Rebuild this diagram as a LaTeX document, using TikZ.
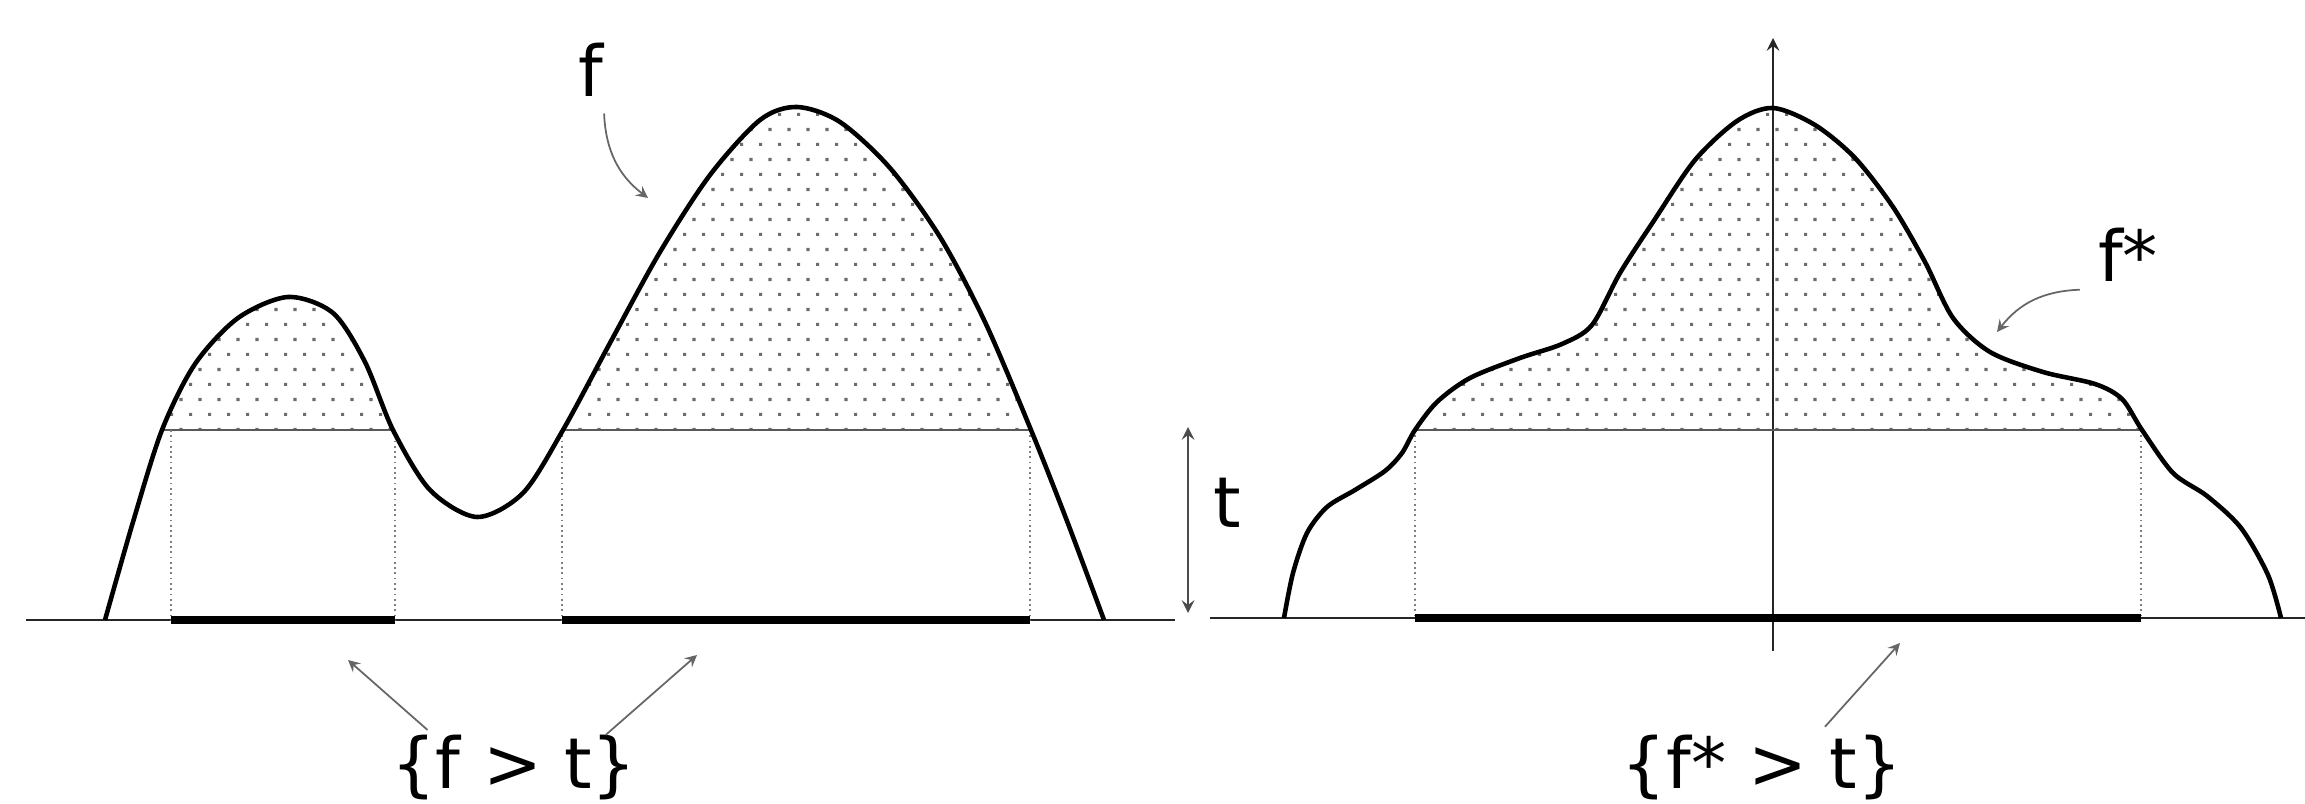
\documentclass[tikz,border=0pt]{standalone}
\usepackage{fontspec}
\setmainfont{DejaVu Sans}
\usetikzlibrary{arrows,patterns.meta}

\tikzdeclarepattern{
  name=sparsedots,
  type=uncolored,
  bounding box={(0pt,0pt) and (5.4pt,8.5pt)},
  tile size={(5.4pt,8.5pt)},
  code={
    \fill (0pt,0pt) rectangle (0.9pt,0.9pt);
    \fill (2.7pt,4.25pt) rectangle (3.6pt,5.15pt);
  }
}

% the two graphs, in picture units
\newcommand{\leftcurve}{plot[smooth] coordinates {(105,620) (133,522) (162,430) (195,364) (238,318) (288,297) (333,313) (365,362) (393,430) (430,490) (477,517) (523,493) (563,430) (610,343) (660,252) (710,175) (760,120) (797,107) (840,122) (890,168) (940,237) (985,322) (1031,430) (1067,521) (1104,620)}}
\newcommand{\rightcurve}{plot[smooth] coordinates {(1284,618) (1293,573) (1307,533) (1327,507) (1355,490) (1385,471) (1402,453) (1415,430) (1437,402) (1470,378) (1520,358) (1562,344) (1592,325) (1620,273) (1655,219) (1695,160) (1737,121) (1773,108) (1815,125) (1855,158) (1893,207) (1925,262) (1953,318) (1990,352) (2043,372) (2095,384) (2122,399) (2142,430) (2173,473) (2207,496) (2241,528) (2268,575) (2281,618)}}

\begin{document}
\begin{tikzpicture}[
        x=0.01cm, y=-0.01cm,
        fline/.style={line width=1.3pt, line join=round},
        tline/.style={draw=gray!70!black, line width=0.8pt},
        dropline/.style={gray, densely dotted, line width=0.5pt},
        setbar/.style={line width=2.2pt},
        groundline/.style={gray!30!black, line width=0.6pt},
        labelarrow/.style={->, >=stealth, gray!80!black, line width=0.5pt},
        dotfill/.style={pattern=sparsedots, pattern color=gray!85!black},
        lbl/.style={font=\fontsize{20}{24}\selectfont, inner sep=0pt}
    ]
        \useasboundingbox (0,0) rectangle (2305,804);

        % Level sets above t
        \begin{scope}
            \clip (0,0) rectangle (2305,430);
            \fill[dotfill] \leftcurve -- cycle;
            \fill[dotfill] \rightcurve -- cycle;
        \end{scope}

        % Ground lines and axis
        \draw[groundline] (26,620) -- (1175,620);
        \draw[groundline] (1210,618) -- (2305,618);
        \draw[groundline, ->, >=stealth] (1773,651) -- (1773,38);

        % Level t
        \draw[tline] (162,430) -- (393,430);
        \draw[tline] (563,430) -- (1031,430);
        \draw[tline] (1415,430) -- (2142,430);

        \draw[dropline] (171,430) -- (171,620);
        \draw[dropline] (395,430) -- (395,620);
        \draw[dropline] (562,430) -- (562,620);
        \draw[dropline] (1030,430) -- (1030,620);
        \draw[dropline] (1415,430) -- (1415,618);
        \draw[dropline] (2141,430) -- (2141,618);

        % Sets {f > t} and {f* > t}
        \draw[setbar] (171,620) -- (395,620);
        \draw[setbar] (562,620) -- (1030,620);
        \draw[setbar] (1415,618) -- (2141,618);

        % Graphs
        \draw[fline] \leftcurve;
        \draw[fline] \rightcurve;

        % Height t
        \draw[<->, >=stealth, gray!60!black, line width=0.6pt] (1188,427) -- (1188,613);
        \node[lbl, anchor=base] (tlabel) at (1227,528) {t};

        % Labels
        \node[lbl, anchor=base] (flabel) at (591,97) {f};
        \node[lbl, anchor=base] (fstar) at (2128,282) {f*};
        \node[lbl, anchor=base] (setf) at (514,789) {\{f > t\}};
        \node[lbl, anchor=base] (setfstar) at (1762,789) {\{f* > t\}};

        \coordinate (ftip) at (648,198);
        \coordinate (fstartip) at (1997,332);
        \coordinate (lefttip) at (348,660);
        \coordinate (midtip) at (697,655);
        \coordinate (startip) at (1900,643);

        \draw[labelarrow] ([yshift=-4.5pt]flabel.south east) to[bend right=25] (ftip);
        \draw[labelarrow] ([shift={(-5pt,-2pt)}]fstar.south west) to[bend right=25] (fstartip);
        \draw[labelarrow] ([shift={(10.5pt,1.4pt)}]setf.north west) -- (lefttip);
        \draw[labelarrow] ([shift={(-9pt,0pt)}]setf.north east) -- (midtip);
        \draw[labelarrow] ([shift={(17.9pt,2.3pt)}]setfstar.north) -- (startip);

    \end{tikzpicture}
\end{document}
